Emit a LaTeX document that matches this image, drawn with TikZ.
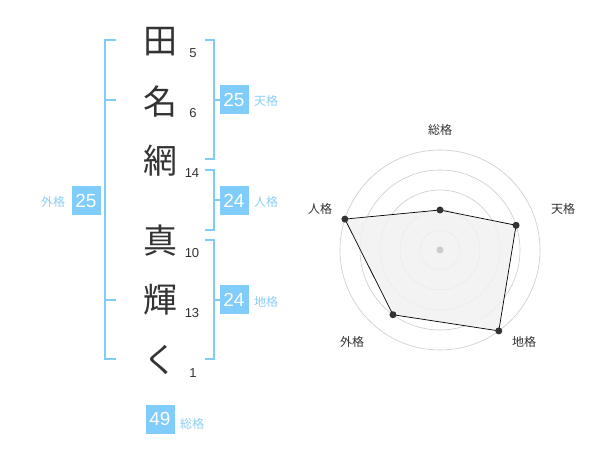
\documentclass[tikz,border=0pt]{standalone}
\usepackage{fontspec}
\setmainfont{Liberation Sans}
\newfontfamily\cjk{Noto Sans CJK JP}
\begin{document}
\begin{tikzpicture}[x=1pt,y=-1pt,
  br/.style={draw=brblue,line width=1.6pt},
  numbox/.style={fill=boxblue,text=white,minimum width=29pt,minimum height=29pt,inner sep=0pt,font=\fontsize{19}{19}\selectfont},
  lbl/.style={text=lblblue,font=\cjk\fontsize{12}{12}\selectfont,inner sep=0pt},
  kanji/.style={text=txt,font=\cjk\fontsize{34}{34}\selectfont,inner sep=0pt},
  strk/.style={text=txt,font=\fontsize{13}{13}\selectfont,inner sep=0pt},
  ring/.style={draw=ringgray,line width=0.6pt},
  axlbl/.style={text=txt,font=\cjk\fontsize{12}{12}\selectfont,inner sep=0pt},
  dot/.style={circle,fill=dotc,inner sep=0pt,minimum size=7pt}]
\definecolor{brblue}{HTML}{7FCCF5}
\definecolor{boxblue}{HTML}{80CCFA}
\definecolor{lblblue}{HTML}{8CCFF5}
\definecolor{txt}{HTML}{333333}
\definecolor{ringgray}{HTML}{CCCCCC}
\definecolor{dotc}{HTML}{333333}
\definecolor{fillg}{HTML}{F1F1F1}
\useasboundingbox (0,0) rectangle (600,470);
\fill[white] (0,0) rectangle (600,470);
% name characters
\node[kanji] (c1) at (160,42) {田};
\node[kanji] (c2) at (160,102) {名};
\node[kanji] (c3) at (160,161) {網};
\node[kanji] (c4) at (160,241) {真};
\node[kanji] (c5) at (160,300) {輝};
\node[kanji] (c6) at (160,360) {く};
% strokes
\node[strk] (s1) at (193,53) {5};
\node[strk] (s2) at (193,113) {6};
\node[strk] (s3) at (192,173) {14};
\node[strk] (s4) at (192,253) {10};
\node[strk] (s5) at (192,313) {13};
\node[strk] (s6) at (193,373) {1};
% left bracket (gaikaku)
\draw[br] (116,40) -- (105,40) -- (105,359) -- (116,359);
\draw[br] (105,100) -- (116,100);
\draw[br] (105,300) -- (116,300);
\node[numbox] (gai) at (86,201) {25};
\node[lbl] (gail) at (53,202) {外格};
% right brackets
\draw[br] (205,40) -- (214,40) -- (214,159) -- (205,159);
\draw[br] (214,100) -- (220,100);
\node[numbox] (ten) at (234,100) {25};
\node[lbl] (tenl) at (266,101) {天格};
\draw[br] (205,170) -- (214,170) -- (214,230) -- (205,230);
\draw[br] (214,200) -- (220,200);
\node[numbox] (jin) at (234,201) {24};
\node[lbl] (jinl) at (266,202) {人格};
\draw[br] (205,240) -- (214,240) -- (214,359) -- (205,359);
\draw[br] (214,300) -- (220,300);
\node[numbox] (chi) at (234,300) {24};
\node[lbl] (chil) at (266,302) {地格};
\node[numbox] (sou) at (160,419) {49};
\node[lbl] (soul) at (192,424) {総格};
% radar
\coordinate (O) at (440,250);
\foreach \r in {20,40,60,80,100} \draw[ring] (O) circle (\r);
\path (O) ++(0,-40) coordinate (pA);
\path (O) ++({80*cos(18)},{-80*sin(18)}) coordinate (pB);
\path (O) ++({100*cos(54)},{100*sin(54)}) coordinate (pC);
\path (O) ++({-80*cos(54)},{80*sin(54)}) coordinate (pD);
\path (O) ++({-100*cos(18)},{-100*sin(18)}) coordinate (pE);
\draw[fill=fillg,fill opacity=0.85,draw=black,line width=0.7pt] (pA) -- (pB) -- (pC) -- (pD) -- (pE) -- cycle;
\foreach \p in {pA,pB,pC,pD,pE} \node[dot] at (\p) {};
\node[circle,fill=ringgray,inner sep=0pt,minimum size=7pt] (ctr) at (O) {};
\node[axlbl] (aA) at (440,130) {総格};
\node[axlbl] (aB) at (563,209) {天格};
\node[axlbl] (aC) at (524,342) {地格};
\node[axlbl] (aD) at (352,342) {外格};
\node[axlbl] (aE) at (320,209) {人格};
\end{tikzpicture}
\end{document}
